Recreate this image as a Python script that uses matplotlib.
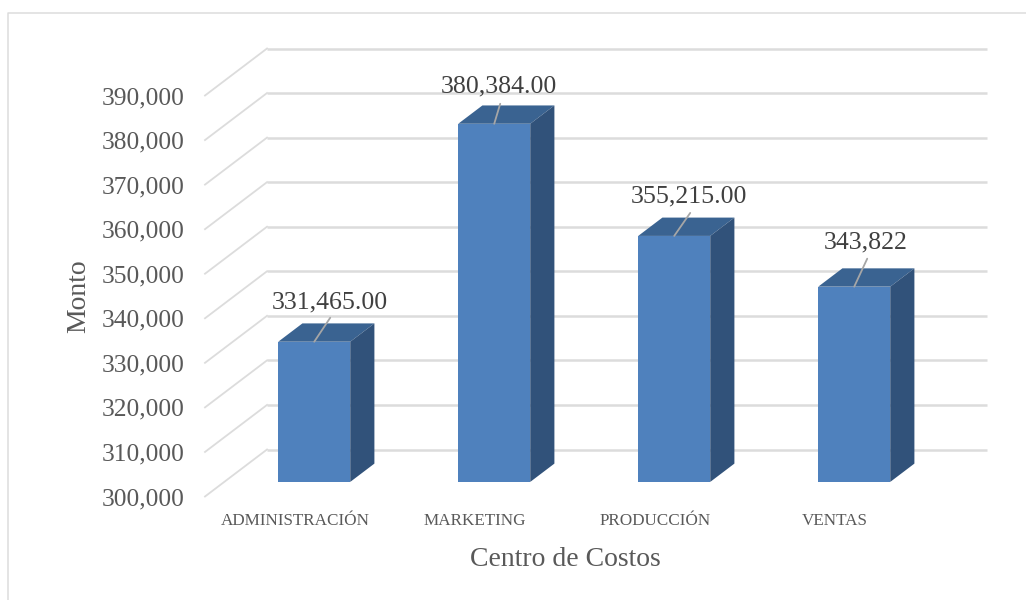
"""3D-look bar chart of monto by centro de costos."""
import matplotlib
matplotlib.use("Agg")
import matplotlib.pyplot as plt
from matplotlib.lines import Line2D
from matplotlib.patches import Polygon

categories = ["ADMINISTRACIÓN", "MARKETING", "PRODUCCIÓN", "VENTAS"]
values = [331465, 380384, 355215, 343822]
value_labels = ["331,465.00", "380,384.00", "355,215.00", "343,822"]
ticks = list(range(300000, 400000, 10000))

W, H = 1026, 600
FACE, SIDE, TOP = "#4F81BD", "#31527A", "#3A6391"
GRID = "#DCDCDC"
TEXT = "#595959"

# fake depth: floor runs 62 px right, 47 px up from front edge to back wall
DX = 62 / 180
DY = 47 * 90000 / 401
D0, D1 = 0.31, 0.70  # where the bar sits in that depth
BAR_W = 0.4

# label / leader offsets from the bar's front top centre, in pixels
label_off = [(16, 39), (5, 37), (15, 39), (11, 44)]
leader_off = [(16, 24), (6, 20), (16, 23), (13, 28)]


def proj(x, v, d):
    return x + d * DX, v + d * DY


plt.rcParams["font.family"] = ["Liberation Serif", "DejaVu Serif"]
fig = plt.figure(figsize=(W / 100, H / 100), dpi=100)
ax = fig.add_axes([205 / W, 1 - 496.5 / H, 720 / W, 401 / H])
ax.set_xlim(-0.5, 3.5)
ax.set_ylim(300000, 390000)
for s in ax.spines.values():
    s.set_visible(False)
ax.patch.set_visible(False)

# outer chart frame
fig.add_artist(Line2D([7.5 / W, 7.5 / W, 1], [0, 1 - 12.5 / H, 1 - 12.5 / H],
                      color=GRID, lw=1.1))

# walls
for t in ticks:
    xs = [-0.5, -0.5 + DX, 3.5 + DX]
    ys = [t, t + DY, t + DY]
    ax.plot(xs[:2], ys[:2], color=GRID, lw=1.3, clip_on=False, zorder=1)
    ax.plot(xs[1:], ys[1:], color=GRID, lw=1.8, clip_on=False, zorder=1,
            solid_capstyle="butt")

for i, v in enumerate(values):
    l, r = i - BAR_W / 2, i + BAR_W / 2
    fl, fb = proj(l, 300000, D0)
    fr, _ = proj(r, 300000, D0)
    _, ft = proj(l, v, D0)
    bl, _ = proj(l, v, D1)
    br, bt = proj(r, v, D1)
    _, bb = proj(r, 300000, D1)
    ax.add_patch(Polygon([(fl, ft), (fr, ft), (br, bt), (bl, bt)], fc=TOP, ec="none",
                         clip_on=False, zorder=2))
    ax.add_patch(Polygon([(fr, fb), (br, bb), (br, bt), (fr, ft)], fc=SIDE, ec="none",
                         clip_on=False, zorder=2))
    ax.bar(fl, ft - fb, width=fr - fl, bottom=fb, align="edge", color=FACE, zorder=3,
           clip_on=False)
    xy = ((fl + fr) / 2, ft)
    ax.annotate("", xy=xy, xytext=leader_off[i], textcoords="offset pixels",
                arrowprops=dict(arrowstyle="-", color="#A6A6A6", lw=1.3, shrinkA=0, shrinkB=0),
                zorder=4, annotation_clip=False)
    ax.annotate(value_labels[i], xy=xy, xytext=label_off[i], textcoords="offset pixels",
                ha="center", va="center", fontsize=18.6, color="#404040", zorder=5,
                annotation_clip=False)

ax.set_yticks(ticks)
ax.set_yticklabels([f"{t:,}" for t in ticks], fontsize=18.4, color=TEXT)
ax.set_xticks(range(len(categories)))
ax.set_xticklabels(categories, fontsize=12.3, color=TEXT)
ax.tick_params(axis="y", length=0, pad=15)
ax.tick_params(axis="x", length=0, pad=12)
ax.set_xlabel("Centro de Costos", fontsize=20, color=TEXT, labelpad=13)
ax.set_ylabel("Monto", fontsize=20, color=TEXT, labelpad=7)

fig.savefig("out.png", dpi=100)
